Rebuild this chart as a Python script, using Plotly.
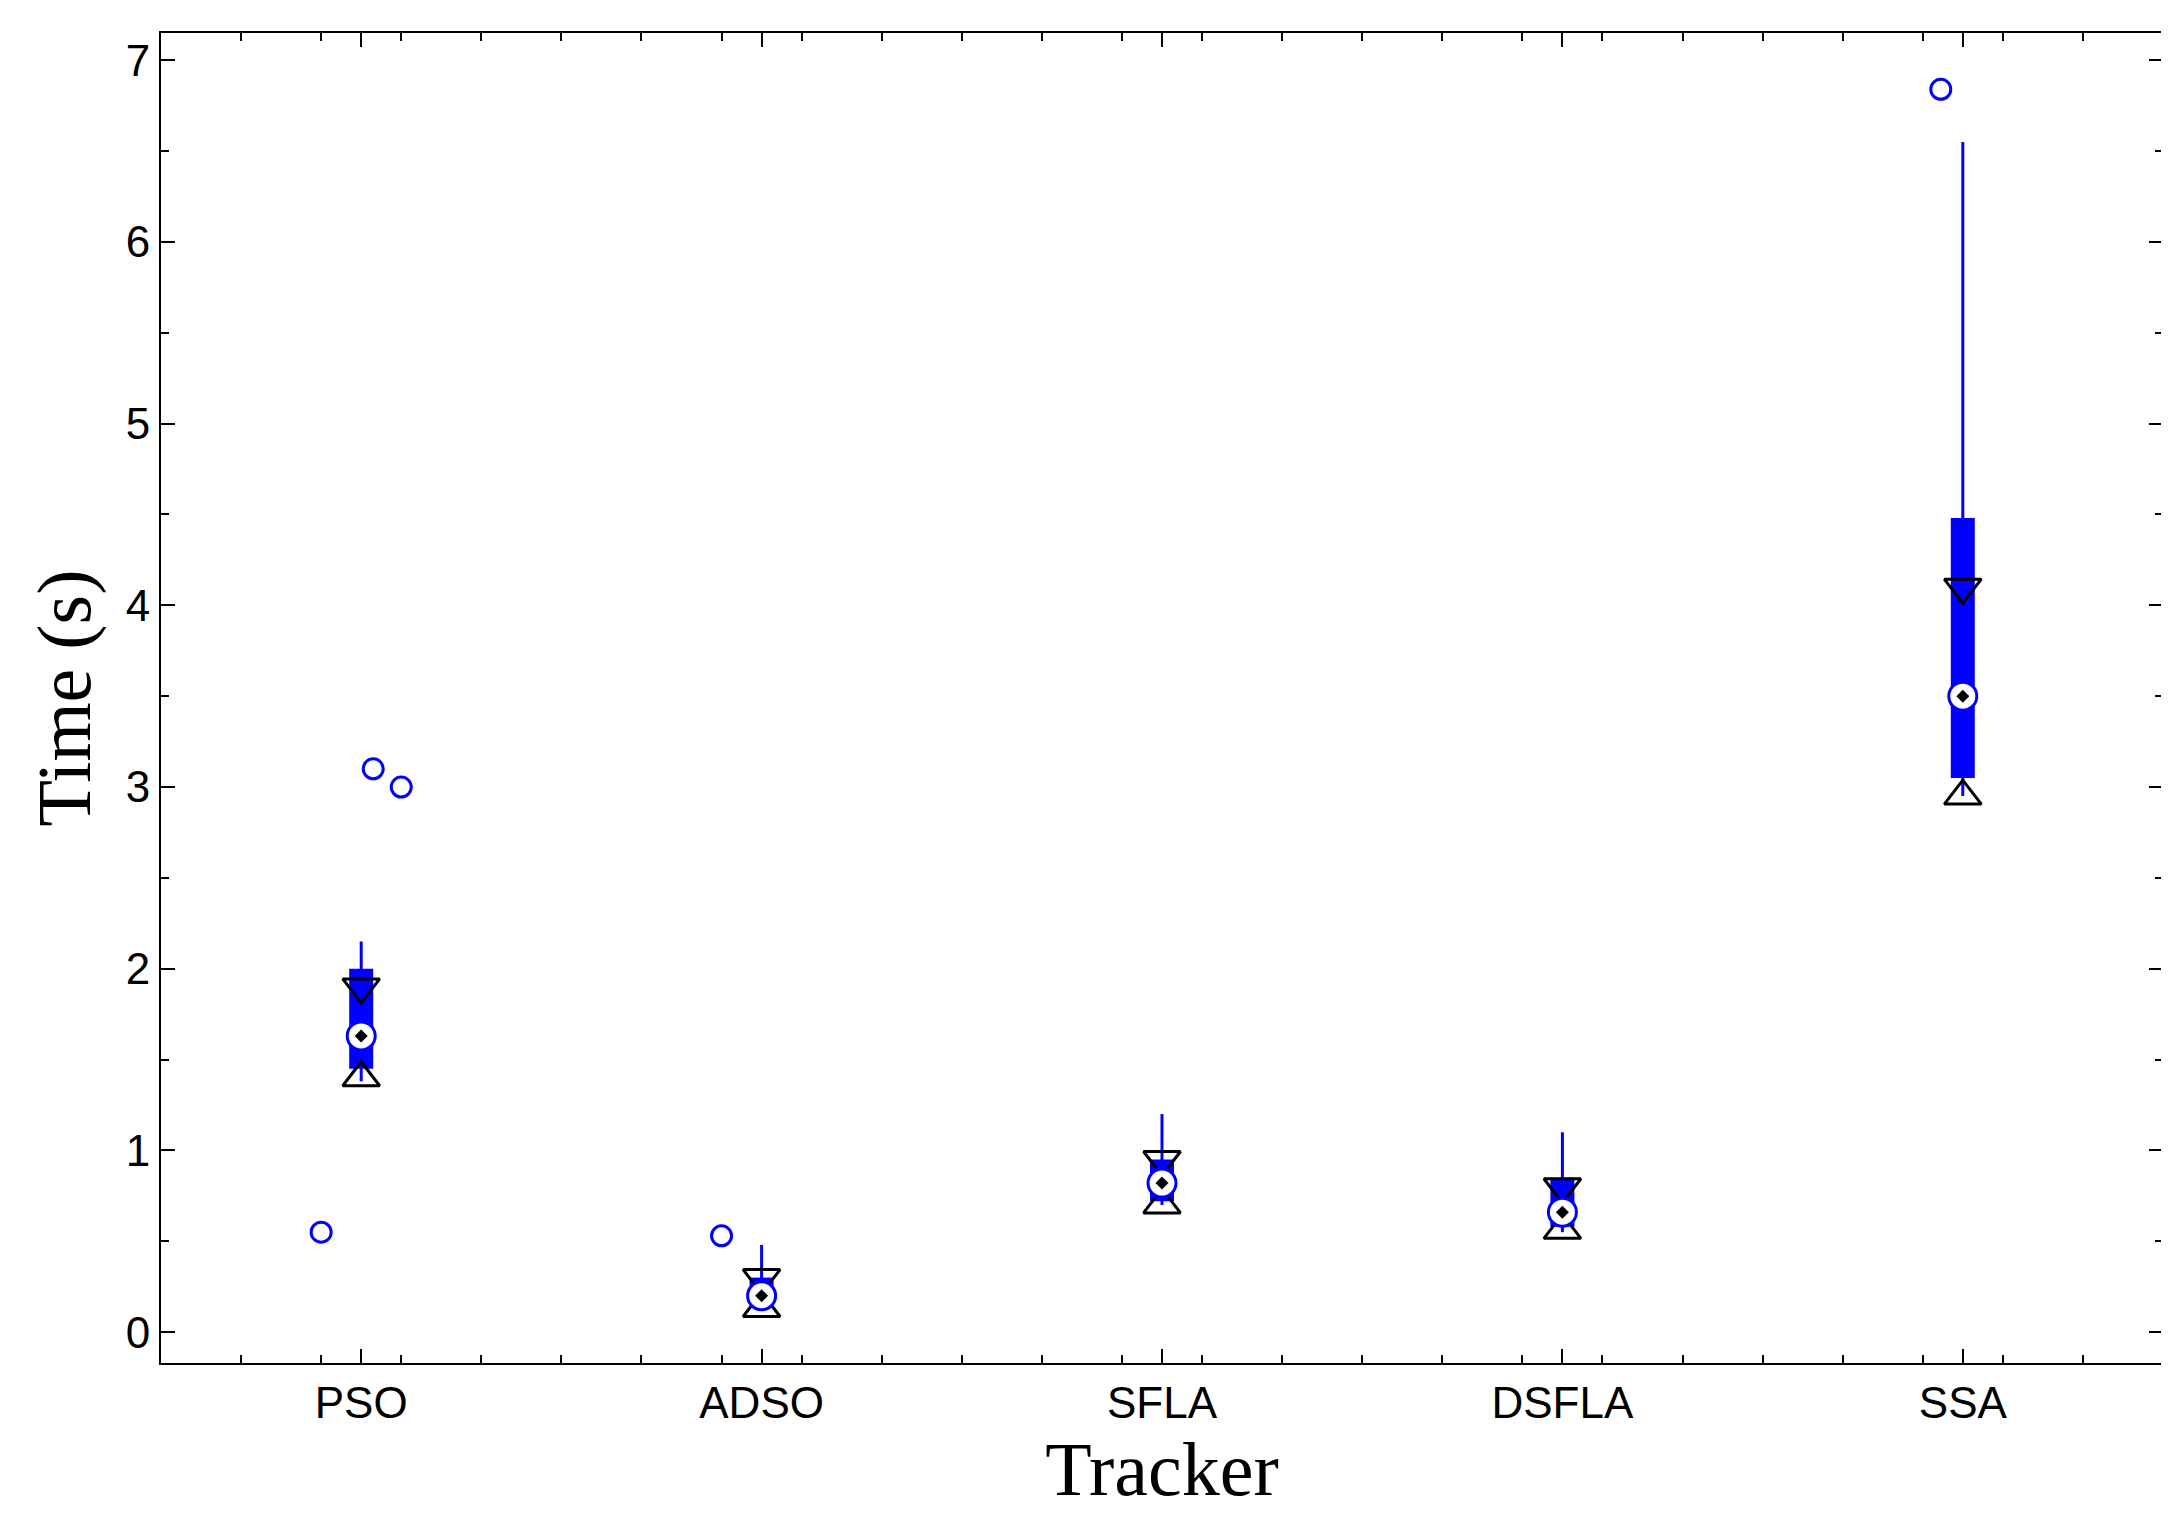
import plotly.graph_objects as go

# Box statistics per tracker
trackers = ["PSO", "ADSO", "SFLA", "DSFLA", "SSA"]
whisk_lo = [1.38, 0.12, 0.70, 0.55, 2.95]
q1 = [1.45, 0.15, 0.72, 0.58, 3.05]
median = [1.63, 0.20, 0.82, 0.66, 3.50]
q3 = [2.00, 0.30, 0.95, 0.85, 4.48]
whisk_hi = [2.15, 0.48, 1.20, 1.10, 6.55]
notch_lo = [1.40, 0.13, 0.70, 0.56, 2.95]
notch_hi = [1.90, 0.30, 0.95, 0.80, 4.10]

# Outliers (x jittered as in the original)
out_x = [0.90, 1.03, 1.10, 1.90, 4.945]
out_y = [0.55, 3.10, 3.00, 0.53, 6.84]

BLUE = "#0000ff"
pos = list(range(1, len(trackers) + 1))

fig = go.Figure()
for i, p in enumerate(pos):
    fig.add_trace(go.Scatter(x=[p, p], y=[whisk_lo[i], whisk_hi[i]], mode="lines",
                             line=dict(color=BLUE, width=3), hoverinfo="skip"))
    fig.add_trace(go.Scatter(x=[p, p], y=[q1[i], q3[i]], mode="lines",
                             line=dict(color=BLUE, width=24), hoverinfo="skip"))

fig.add_trace(go.Scatter(x=pos, y=notch_hi, mode="markers",
                         marker=dict(symbol="triangle-down-open", size=32,
                                     color="black", line=dict(width=3))))
fig.add_trace(go.Scatter(x=pos, y=notch_lo, mode="markers",
                         marker=dict(symbol="triangle-up-open", size=32,
                                     color="black", line=dict(width=3))))
fig.add_trace(go.Scatter(x=pos, y=median, mode="markers",
                         marker=dict(symbol="circle", size=28, color="white",
                                     line=dict(color=BLUE, width=3))))
fig.add_trace(go.Scatter(x=pos, y=median, mode="markers",
                         marker=dict(symbol="diamond", size=10, color="black")))
fig.add_trace(go.Scatter(x=out_x, y=out_y, mode="markers",
                         marker=dict(symbol="circle-open", size=20, color=BLUE,
                                     line=dict(width=3))))

axis_common = dict(showgrid=False, zeroline=False, showline=True, mirror="allticks",
                   linecolor="black", linewidth=2, ticks="inside", ticklen=14,
                   tickwidth=2, tickcolor="black",
                   tickfont=dict(family="Liberation Sans, Arial", size=44, color="black"))

fig.update_layout(
    width=2169, height=1525,
    paper_bgcolor="white", plot_bgcolor="white",
    showlegend=False,
    margin=dict(l=153, r=14, t=25, b=170),
    xaxis=dict(range=[0.5, 5.5], tickvals=pos, ticktext=trackers,
               minor=dict(dtick=0.2, tick0=0.5, ticks="inside", ticklen=8, tickwidth=2, tickcolor="black"),
               title=dict(text="Tracker", standoff=4,
                          font=dict(family="Liberation Serif, Times New Roman", size=76, color="black")),
               **axis_common),
    yaxis=dict(range=[-0.17, 7.15], dtick=1, tick0=0,
               minor=dict(dtick=0.5, ticks="inside", ticklen=8, tickwidth=2, tickcolor="black"),
               title=dict(text="Time (s)", standoff=10,
                          font=dict(family="Liberation Serif, Times New Roman", size=76, color="black")),
               **axis_common),
)

fig.write_html("out.html")
